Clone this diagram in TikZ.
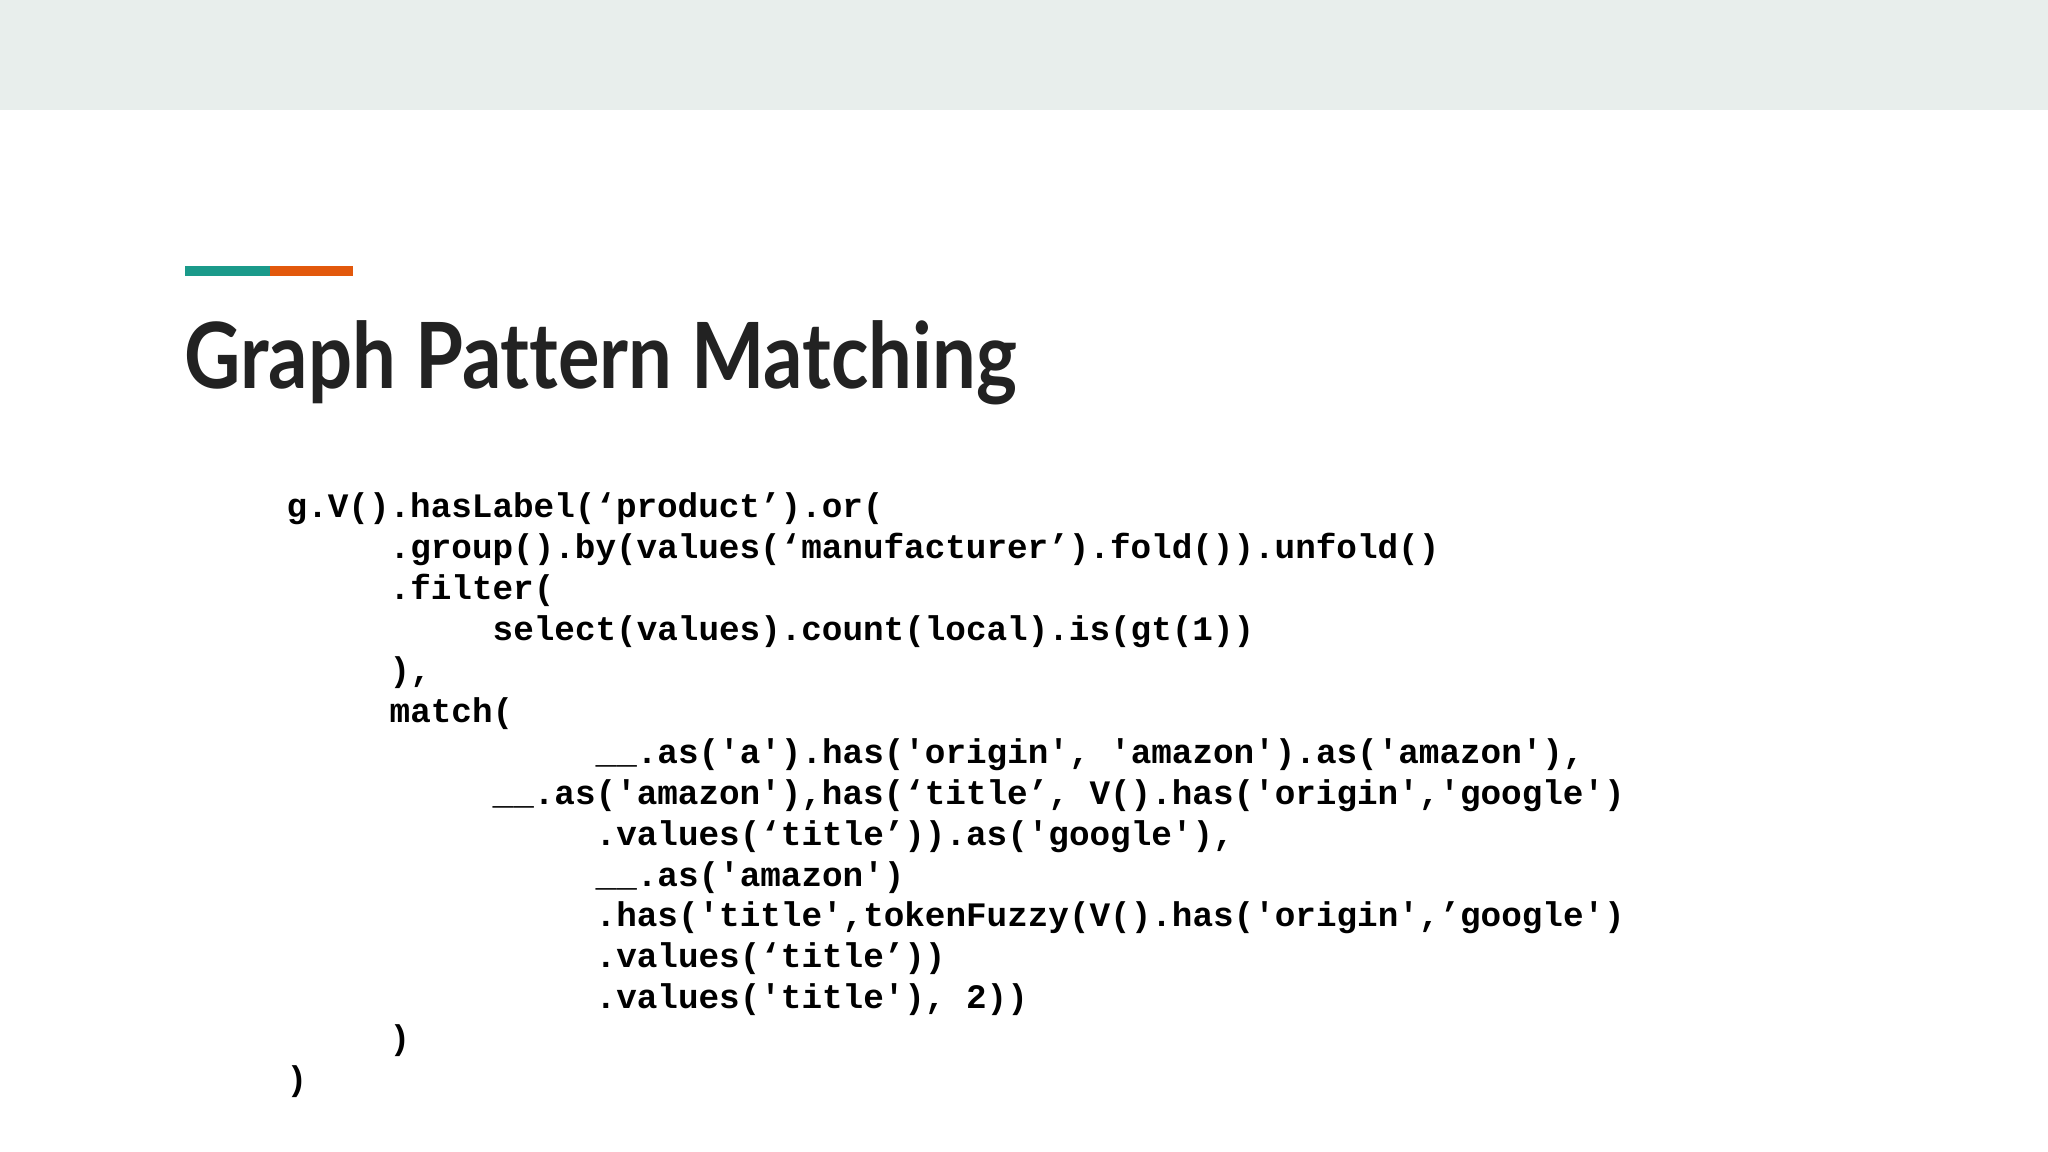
\documentclass[tikz,border=0pt]{standalone}
\usepackage{fontspec}
\newfontfamily\codefont{Liberation Mono}
\newfontfamily\titlefont{Lato}[Ligatures=NoCommon]
\definecolor{band}{HTML}{E8EEEC}
\definecolor{teal}{HTML}{1A9A8A}
\definecolor{orng}{HTML}{E2580C}
\definecolor{ink}{HTML}{222222}
\tikzset{codeline/.style={anchor=base west,inner sep=0pt,font=\codefont\bfseries\fontsize{9.76pt}{12pt}\selectfont,text=black}}
\begin{document}
\begin{tikzpicture}[x=1cm,y=1cm]
\useasboundingbox (0,0) rectangle (20.48,-11.52);
\fill[white] (0,0) rectangle (20.48,-11.52);
\fill[band] (0,0) rectangle (20.48,-1.10);
\fill[teal] (1.85,-2.66) rectangle (2.70,-2.76);
\fill[orng] (2.70,-2.66) rectangle (3.53,-2.76);
\node[anchor=base west,inner sep=0pt,xscale=0.85,text=ink,font=\titlefont\bfseries\fontsize{26pt}{30pt}\selectfont] (title) at (1.84,-3.89) {Graph Pattern Matching};
\def\cx#1{2.86+#1*0.206}
\def\ly#1{-5.18-#1*0.409}
\node[codeline] (l0) at ({\cx{0}},{\ly{0}}) {g.V().hasLabel(‘product’).or(};
\node[codeline] (l1) at ({\cx{5}},{\ly{1}}) {.group().by(values(‘manufacturer’).fold()).unfold()};
\node[codeline] (l2) at ({\cx{5}},{\ly{2}}) {.filter(};
\node[codeline] (l3) at ({\cx{10}},{\ly{3}}) {select(values).count(local).is(gt(1))};
\node[codeline] (l4) at ({\cx{5}},{\ly{4}}) {),};
\node[codeline] (l5) at ({\cx{5}},{\ly{5}}) {match(};
\node[codeline] (l6) at ({\cx{15}},{\ly{6}}) {\_\_.as('a').has('origin', 'amazon').as('amazon'),};
\node[codeline] (l7) at ({\cx{10}},{\ly{7}}) {\_\_.as('amazon'),has(‘title’, V().has('origin','google')};
\node[codeline] (l8) at ({\cx{15}},{\ly{8}}) {.values(‘title’)).as('google'),};
\node[codeline] (l9) at ({\cx{15}},{\ly{9}}) {\_\_.as('amazon')};
\node[codeline] (l10) at ({\cx{15}},{\ly{10}}) {.has('title',tokenFuzzy(V().has('origin',’google')};
\node[codeline] (l11) at ({\cx{15}},{\ly{11}}) {.values(‘title’))};
\node[codeline] (l12) at ({\cx{15}},{\ly{12}}) {.values('title'), 2))};
\node[codeline] (l13) at ({\cx{5}},{\ly{13}}) {)};
\node[codeline] (l14) at ({\cx{0}},{\ly{14}}) {)};
\end{tikzpicture}
\end{document}
